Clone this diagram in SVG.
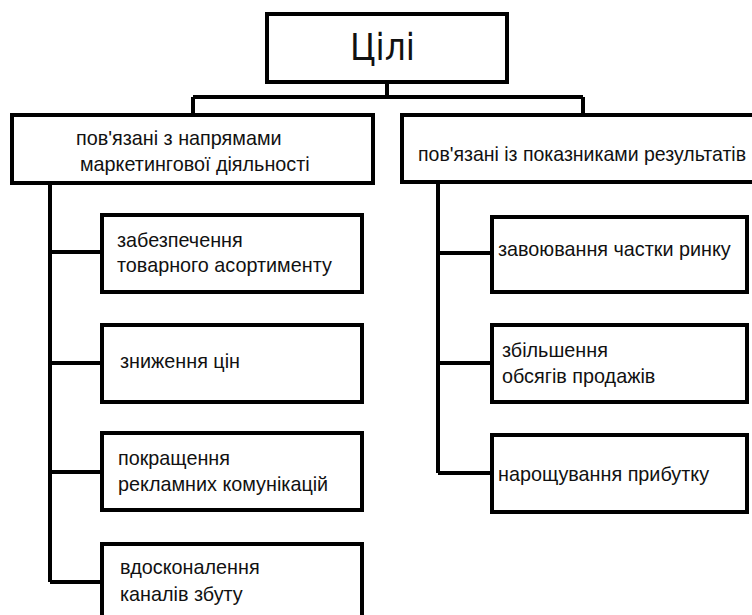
<svg xmlns="http://www.w3.org/2000/svg" width="752" height="615" viewBox="0 0 752 615">
<style>
.box{fill:#fff;stroke:#000;stroke-width:4}
.ln{fill:none;stroke:#000;stroke-width:4}
.t{font-family:"Liberation Sans",Arial,sans-serif;font-size:19.8px;fill:#111}
.big{font-family:"DejaVu Sans","Liberation Sans",sans-serif;font-size:38px;fill:#111}
</style>
<rect width="752" height="615" fill="#fff"/>
<g id="connectors">
<path class="ln" d="M387 82V97M193 97H583M193 97V115M583 97V115"/>
<path class="ln" d="M50 183V582M50 252H102M50 363H102M50 472H102M50 582H102"/>
<path class="ln" d="M438 182V473M438 253H492M438 363H492M438 473H492"/>
</g>
<g id="root"><rect class="box" x="267" y="14" width="240" height="68"/><text class="big" x="350" y="60" textLength="65" lengthAdjust="spacingAndGlyphs">Цілі</text></g>
<g id="left"><rect class="box" x="12" y="115" width="361" height="68"/><text class="t" x="76" y="145">пов'язані з напрямами</text><text class="t" x="80" y="171">маркетингової діяльності</text></g>
<g id="right"><rect class="box" x="402" y="115" width="360" height="67"/><text class="t" x="418" y="161" textLength="328" lengthAdjust="spacingAndGlyphs">пов'язані із показниками результатів</text></g>
<g id="l1"><rect class="box" x="102" y="215" width="260" height="77"/><text class="t" x="117" y="247">забезпечення</text><text class="t" x="117" y="272">товарного асортименту</text></g>
<g id="l2"><rect class="box" x="102" y="325" width="260" height="77"/><text class="t" x="120" y="368">зниження цін</text></g>
<g id="l3"><rect class="box" x="102" y="433" width="260" height="77"/><text class="t" x="118" y="465">покращення</text><text class="t" x="118" y="491">рекламних комунікацій</text></g>
<g id="l4"><rect class="box" x="102" y="544" width="260" height="80"/><text class="t" x="120" y="574">вдосконалення</text><text class="t" x="120" y="601">каналів збуту</text></g>
<g id="r1"><rect class="box" x="492" y="217" width="255" height="75"/><text class="t" x="498" y="256">завоювання частки ринку</text></g>
<g id="r2"><rect class="box" x="492" y="325" width="255" height="77"/><text class="t" x="502" y="357">збільшення</text><text class="t" x="502" y="383">обсягів продажів</text></g>
<g id="r3"><rect class="box" x="492" y="435" width="255" height="77"/><text class="t" x="498" y="481">нарощування прибутку</text></g>
</svg>
